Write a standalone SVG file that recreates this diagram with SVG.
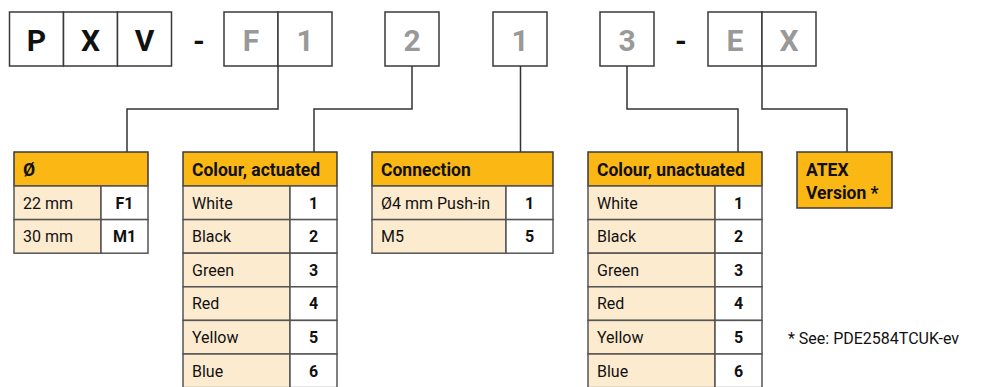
<svg xmlns="http://www.w3.org/2000/svg" width="989" height="387" viewBox="0 0 989 387">
<style>
.box{fill:#fff;stroke:#3a3a3a;stroke-width:1.5}
.big{font-family:Roboto,"Liberation Sans",sans-serif;font-weight:bold;font-size:30px;text-anchor:middle}
.blk{fill:#111}
.gry{fill:#999}
.hdr{fill:#FBB714;stroke:#3a3a3a;stroke-width:1.5}
.lt{fill:#FDEBD0;stroke:#555;stroke-width:1.5}
.wt{fill:#fff;stroke:#555;stroke-width:1.5}
.ht{font-family:Roboto,"Liberation Sans",sans-serif;font-weight:bold;font-size:17.5px;fill:#111}
.t{font-family:Roboto,"Liberation Sans",sans-serif;font-size:16px;fill:#111}
.n{font-family:Roboto,"Liberation Sans",sans-serif;font-weight:bold;font-size:16px;fill:#111;text-anchor:middle}
.con{fill:none;stroke:#333;stroke-width:1.5}
</style>
<g id="code">
<rect class="box" x="9.5" y="12" width="54" height="54"/>
<rect class="box" x="63.5" y="12" width="54" height="54"/>
<rect class="box" x="117.5" y="12" width="54" height="54"/>
<text class="big blk" x="36.5" y="51">P</text>
<text class="big blk" x="90.5" y="51">X</text>
<text class="big blk" x="144.5" y="51">V</text>
<text class="big blk" x="199" y="51">-</text>
<rect class="box" x="224" y="12" width="54" height="54"/>
<rect class="box" x="278" y="12" width="54" height="54"/>
<text class="big gry" x="251" y="51">F</text>
<text class="big gry" x="305" y="51">1</text>
<rect class="box" x="385" y="12" width="54" height="54"/>
<text class="big gry" x="412" y="51">2</text>
<rect class="box" x="493" y="12" width="54" height="54"/>
<text class="big gry" x="520" y="51">1</text>
<rect class="box" x="600" y="12" width="54" height="54"/>
<text class="big gry" x="627" y="51">3</text>
<text class="big blk" x="681" y="51">-</text>
<rect class="box" x="708" y="12" width="54" height="54"/>
<rect class="box" x="762" y="12" width="54" height="54"/>
<text class="big gry" x="735" y="51">E</text>
<text class="big gry" x="789" y="51">X</text>
</g>
<g id="connectors">
<polyline class="con" points="278,66 278,109 127,109 127,152"/>
<polyline class="con" points="412,66 412,109 314,109 314,152"/>
<polyline class="con" points="520.5,66 520.5,152"/>
<polyline class="con" points="627,66 627,109 738,109 738,152"/>
<polyline class="con" points="762,66 762,109 847,109 847,152"/>
</g>
<g id="diameter">
<rect class="hdr" x="14" y="152" width="134" height="34"/>
<text class="ht" x="23" y="175.5">Ø</text>
<rect class="lt" x="14" y="186" width="87" height="33.6"/><rect class="wt" x="101" y="186" width="47" height="33.6"/>
<text class="t" x="23" y="208.5">22 mm</text><text class="n" x="124.5" y="208.5">F1</text>
<rect class="lt" x="14" y="219.6" width="87" height="33.6"/><rect class="wt" x="101" y="219.6" width="47" height="33.6"/>
<text class="t" x="23" y="242">30 mm</text><text class="n" x="124.5" y="242">M1</text>
</g>
<g id="colour-actuated">
<rect class="hdr" x="183" y="152" width="154" height="34"/>
<text class="ht" x="192" y="175.5">Colour, actuated</text>
<rect class="lt" x="183" y="186" width="107" height="33.6"/><rect class="wt" x="290" y="186" width="47" height="33.6"/>
<text class="t" x="192" y="208.5">White</text><text class="n" x="313.5" y="208.5">1</text>
<rect class="lt" x="183" y="219.6" width="107" height="33.6"/><rect class="wt" x="290" y="219.6" width="47" height="33.6"/>
<text class="t" x="192" y="242">Black</text><text class="n" x="313.5" y="242">2</text>
<rect class="lt" x="183" y="253.2" width="107" height="33.6"/><rect class="wt" x="290" y="253.2" width="47" height="33.6"/>
<text class="t" x="192" y="275.7">Green</text><text class="n" x="313.5" y="275.7">3</text>
<rect class="lt" x="183" y="286.8" width="107" height="33.6"/><rect class="wt" x="290" y="286.8" width="47" height="33.6"/>
<text class="t" x="192" y="309.3">Red</text><text class="n" x="313.5" y="309.3">4</text>
<rect class="lt" x="183" y="320.4" width="107" height="33.6"/><rect class="wt" x="290" y="320.4" width="47" height="33.6"/>
<text class="t" x="192" y="342.9">Yellow</text><text class="n" x="313.5" y="342.9">5</text>
<rect class="lt" x="183" y="354" width="107" height="33.6"/><rect class="wt" x="290" y="354" width="47" height="33.6"/>
<text class="t" x="192" y="376.5">Blue</text><text class="n" x="313.5" y="376.5">6</text>
</g>
<g id="connection">
<rect class="hdr" x="372" y="152" width="181" height="34"/>
<text class="ht" x="381" y="175.5">Connection</text>
<rect class="lt" x="372" y="186" width="134" height="33.6"/><rect class="wt" x="506" y="186" width="47" height="33.6"/>
<text class="t" x="381" y="208.5">Ø4 mm Push-in</text><text class="n" x="529.5" y="208.5">1</text>
<rect class="lt" x="372" y="219.6" width="134" height="33.6"/><rect class="wt" x="506" y="219.6" width="47" height="33.6"/>
<text class="t" x="381" y="242">M5</text><text class="n" x="529.5" y="242">5</text>
</g>
<g id="colour-unactuated">
<rect class="hdr" x="588" y="152" width="174" height="34"/>
<text class="ht" x="597" y="175.5">Colour, unactuated</text>
<rect class="lt" x="588" y="186" width="127" height="33.6"/><rect class="wt" x="715" y="186" width="47" height="33.6"/>
<text class="t" x="597" y="208.5">White</text><text class="n" x="738.5" y="208.5">1</text>
<rect class="lt" x="588" y="219.6" width="127" height="33.6"/><rect class="wt" x="715" y="219.6" width="47" height="33.6"/>
<text class="t" x="597" y="242">Black</text><text class="n" x="738.5" y="242">2</text>
<rect class="lt" x="588" y="253.2" width="127" height="33.6"/><rect class="wt" x="715" y="253.2" width="47" height="33.6"/>
<text class="t" x="597" y="275.7">Green</text><text class="n" x="738.5" y="275.7">3</text>
<rect class="lt" x="588" y="286.8" width="127" height="33.6"/><rect class="wt" x="715" y="286.8" width="47" height="33.6"/>
<text class="t" x="597" y="309.3">Red</text><text class="n" x="738.5" y="309.3">4</text>
<rect class="lt" x="588" y="320.4" width="127" height="33.6"/><rect class="wt" x="715" y="320.4" width="47" height="33.6"/>
<text class="t" x="597" y="342.9">Yellow</text><text class="n" x="738.5" y="342.9">5</text>
<rect class="lt" x="588" y="354" width="127" height="33.6"/><rect class="wt" x="715" y="354" width="47" height="33.6"/>
<text class="t" x="597" y="376.5">Blue</text><text class="n" x="738.5" y="376.5">6</text>
</g>
<g id="atex">
<rect class="hdr" x="797" y="152" width="95" height="56"/>
<text class="ht" x="806" y="175.5">ATEX</text>
<text class="ht" x="806" y="198.5">Version *</text>
</g>
<g id="footnote">
<text class="t" x="788" y="344">* See: PDE2584TCUK-ev</text>
</g>
</svg>
